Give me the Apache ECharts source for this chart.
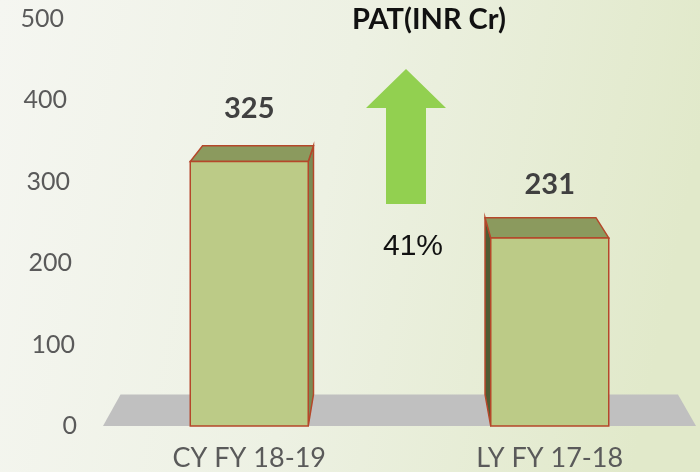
<!DOCTYPE html>
<html>
<head>
    <meta charset="utf-8">
    <title>PAT(INR Cr)</title>
    <script src="https://cdn.jsdelivr.net/npm/echarts/dist/echarts.min.js"></script>
    <style>
        html, body {
            margin: 0;
            padding: 0;
        }
        #main {
            width: 700px;
            height: 472px;
        }
    </style>
</head>
<body>
<div id="main"></div>
<script>
    // data
    var categories = ['CY FY 18-19', 'LY FY 17-18'];
    var patValues = [325, 231];
    var growthText = '41%';
    var titleText = 'PAT(INR Cr)';

    // 3d look: everything recedes toward one vanishing point
    var SHRINK = 0.94;
    var VP_DROP = 526;      // vanishing point sits this far above the floor front edge
    var HALF_W = 59;
    var EDGE = '#b5472a';

    function toBack(p, vp) {
        return [vp[0] + SHRINK * (p[0] - vp[0]), vp[1] + SHRINK * (p[1] - vp[1])];
    }

    function vanishing(params, api) {
        var cs = params.coordSys;
        var floorY = api.coord([0, 0])[1];
        return [cs.x + cs.width / 2 - 4, floorY - VP_DROP];
    }

    function renderFloor(params, api) {
        var cs = params.coordSys;
        var vp = vanishing(params, api);
        var fy = api.coord([0, 0])[1];
        var a = [cs.x + 4, fy], b = [cs.x + cs.width - 4, fy];
        return {
            type: 'polygon',
            shape: {points: [a, b, toBack(b, vp), toBack(a, vp)]},
            style: {fill: '#c0c0c0'}
        };
    }

    function renderBar(params, api) {
        var vp = vanishing(params, api);
        var top = api.coord([api.value(0), api.value(1)]);
        var base = api.coord([api.value(0), 0]);
        var cx = top[0];
        var x0 = cx - HALF_W, x1 = cx + HALF_W;
        var fTL = [x0, top[1]], fTR = [x1, top[1]];
        var fBL = [x0, base[1]], fBR = [x1, base[1]];
        var side;
        if (x1 < vp[0]) {
            side = [fTR, toBack(fTR, vp), toBack(fBR, vp), fBR];
        } else {
            side = [fTL, toBack(fTL, vp), toBack(fBL, vp), fBL];
        }
        var sideColor = x1 < vp[0] ? '#7b8b55' : '#4f5b32';
        return {
            type: 'group',
            children: [
                {
                    type: 'polygon',
                    shape: {points: side},
                    style: {fill: sideColor, stroke: EDGE, lineWidth: 1.5}
                },
                {
                    type: 'polygon',
                    shape: {points: [fTL, fTR, toBack(fTR, vp), toBack(fTL, vp)]},
                    style: {fill: '#8b9a5e', stroke: EDGE, lineWidth: 1.5}
                },
                {
                    type: 'rect',
                    shape: {x: x0, y: top[1], width: x1 - x0, height: base[1] - top[1]},
                    style: {fill: '#bccb87', stroke: EDGE, lineWidth: 1.5}
                },
                {
                    type: 'text',
                    x: cx,
                    y: top[1] - 53,
                    style: {
                        text: String(api.value(1)),
                        fill: '#404040',
                        font: 'bold 29px Lato',
                        align: 'center',
                        verticalAlign: 'middle'
                    }
                }
            ]
        };
    }

    // y labels drift right going down (perspective)
    var labelPad = {0: 0, 100: 2, 200: 5, 300: 7, 400: 10, 500: 13};
    var rich = {};
    for (var k in labelPad) {
        rich['p' + k] = {padding: [0, labelPad[k], 0, 0], fontFamily: 'Lato', fontSize: 25, color: '#5a5a5a'};
    }

    var myChart = echarts.init(document.getElementById('main'));
    var option = {
        backgroundColor: {
            type: 'linear', x: 0, y: 0, x2: 1, y2: 0.3,
            colorStops: [
                {offset: 0, color: '#f5f6f1'},
                {offset: 0.5, color: '#edf1e3'},
                {offset: 1, color: '#e1e9ca'}
            ]
        },
        title: {
            text: titleText,
            left: 424,
            top: 0,
            textAlign: 'center',
            textStyle: {fontFamily: 'Lato', fontWeight: 'bold', fontSize: 29, color: '#111'}
        },
        grid: {left: 99, width: 606, top: 19, bottom: 45},
        xAxis: {
            type: 'category',
            data: categories,
            axisLine: {show: false},
            axisTick: {show: false},
            axisLabel: {margin: 19, fontFamily: 'Lato', fontSize: 27, color: '#5a5a5a'}
        },
        yAxis: {
            type: 'value',
            min: 0,
            max: 500,
            interval: 100,
            splitLine: {show: false},
            axisLine: {show: false},
            axisTick: {show: false},
            axisLabel: {
                margin: 22,
                formatter: function (v) {
                    return '{p' + v + '|' + v + '}';
                },
                rich: rich
            }
        },
        graphic: [
            {
                type: 'polygon',
                shape: {points: [[406, 69], [446, 108], [426, 108], [426, 204], [386, 204], [386, 108], [366, 108]]},
                style: {fill: '#92d050'}
            },
            {
                type: 'text',
                x: 413,
                y: 247,
                style: {
                    text: growthText,
                    font: '30px "Liberation Sans"',
                    fill: '#111',
                    align: 'center',
                    verticalAlign: 'middle'
                }
            }
        ],
        series: [
            {
                type: 'custom',
                renderItem: renderFloor,
                data: [[0, 0]],
                silent: true
            },
            {
                type: 'custom',
                renderItem: renderBar,
                data: patValues.map(function (v, i) { return [i, v]; })
            }
        ]
    };
    myChart.setOption(option);
</script>
</body>
</html>
